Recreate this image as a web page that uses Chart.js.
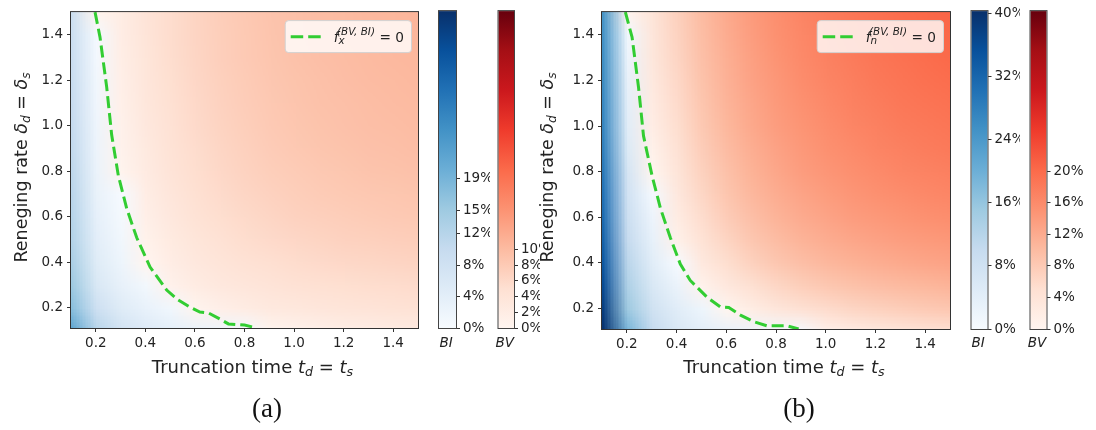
<!DOCTYPE html>
<html>
<head>
<meta charset="utf-8">
<script src="https://cdn.jsdelivr.net/npm/chart.js@4.4.1/dist/chart.umd.min.js"></script>
<style>
  html, body { margin: 0; padding: 0; background: #fff; }
  #fig { position: relative; width: 1096px; height: 430px; overflow: hidden; background: #fff; }
  #fig canvas { position: absolute; top: 0; }
</style>
</head>
<body>
<div id="fig">
  <canvas id="heatA" width="425" height="430" style="left:0px"></canvas>
  <canvas id="biA" width="60" height="360" style="left:430px"></canvas>
  <canvas id="bvA" width="50" height="360" style="left:490px"></canvas>
  <canvas id="heatB" width="430" height="430" style="left:530px"></canvas>
  <canvas id="biB" width="60" height="360" style="left:960px"></canvas>
  <canvas id="bvB" width="76" height="360" style="left:1020px"></canvas>
</div>
<script>
// ---- sample grid: truncation time t (columns) and reneging rate delta (rows) ----
const tGrid = [0.1, 0.2, 0.3, 0.4, 0.5, 0.6, 0.7, 0.8, 0.9, 1.0, 1.1, 1.2, 1.3, 1.4, 1.5];
const dGrid = [0.1, 0.2, 0.3, 0.4, 0.5, 0.6, 0.7, 0.8, 0.9, 1.0, 1.1, 1.2, 1.3, 1.4, 1.5];

// advantage in % : positive = BV better, negative = BI better (rows follow dGrid)
const advantageX = [
  [-22, -12, -7.5, -5.2, -3.8, -2.6, -1.7, -0.9, 0.1, 0.7, 1.2, 1.6, 1.9, 2.2, 2.4],
  [-17, -8.5, -4.8, -2.8, -1.3, 0.3, 1.4, 2.2, 2.8, 3.2, 3.6, 3.9, 4.1, 4.3, 4.5],
  [-15, -6.0, -3.0, -1.1, 0.9, 2.1, 3.0, 3.6, 4.1, 4.5, 4.8, 5.1, 5.3, 5.5, 5.7],
  [-13.5, -4.8, -2.0, 0.0, 1.8, 3.0, 3.9, 4.5, 5.0, 5.4, 5.8, 6.1, 6.3, 6.5, 6.7],
  [-12.5, -4.0, -1.3, 0.8, 2.5, 3.7, 4.6, 5.3, 5.8, 6.2, 6.6, 6.9, 7.1, 7.3, 7.5],
  [-12, -3.4, -0.6, 1.4, 3.1, 4.3, 5.2, 5.9, 6.4, 6.9, 7.2, 7.5, 7.8, 8.0, 8.2],
  [-11.5, -2.9, -0.2, 1.9, 3.6, 4.8, 5.7, 6.4, 6.9, 7.4, 7.8, 8.1, 8.3, 8.5, 8.7],
  [-11, -2.5, 0.3, 2.3, 4.0, 5.2, 6.1, 6.8, 7.4, 7.8, 8.2, 8.5, 8.8, 9.0, 9.2],
  [-10.5, -2.1, 0.6, 2.7, 4.3, 5.5, 6.4, 7.1, 7.7, 8.2, 8.6, 8.9, 9.2, 9.4, 9.6],
  [-10, -1.8, 0.9, 3.0, 4.6, 5.8, 6.7, 7.4, 8.0, 8.5, 8.9, 9.2, 9.5, 9.7, 9.9],
  [-9.7, -1.5, 1.2, 3.3, 4.9, 6.0, 6.9, 7.6, 8.2, 8.7, 9.1, 9.4, 9.7, 9.9, 10.1],
  [-9.4, -1.2, 1.4, 3.5, 5.1, 6.2, 7.1, 7.8, 8.4, 8.9, 9.3, 9.6, 9.9, 10.1, 10.3],
  [-9.1, -0.9, 1.6, 3.7, 5.3, 6.4, 7.3, 8.0, 8.6, 9.1, 9.5, 9.8, 10.1, 10.3, 10.5],
  [-8.8, -0.6, 1.8, 3.9, 5.4, 6.5, 7.4, 8.1, 8.7, 9.2, 9.6, 9.9, 10.2, 10.4, 10.6],
  [-8.6, 0.1, 2.0, 4.0, 5.5, 6.6, 7.5, 8.2, 8.8, 9.3, 9.7, 10.0, 10.3, 10.5, 10.7]
];
const advantageN = [
  [-40, -19, -10, -6, -4, -2.8, -1.8, -1.0, -0.3, 0.9, 1.9, 2.7, 3.4, 4.0, 4.5],
  [-38, -15, -8, -4.5, -2, 0.1, 2.0, 3.5, 4.7, 5.6, 6.4, 7.0, 7.5, 8.0, 8.4],
  [-36, -13, -6, -2.5, 0.6, 3.0, 4.9, 6.3, 7.4, 8.3, 9.0, 9.6, 10.1, 10.5, 10.9],
  [-34, -11.5, -4.5, -0.3, 2.9, 5.2, 7.0, 8.4, 9.5, 10.4, 11.1, 11.7, 12.2, 12.6, 13.0],
  [-32.5, -10, -3.3, 1.0, 4.3, 6.6, 8.4, 9.8, 10.9, 11.8, 12.5, 13.1, 13.6, 14.0, 14.4],
  [-31, -8.8, -2.1, 2.1, 5.4, 7.7, 9.5, 10.9, 12.0, 12.9, 13.7, 14.3, 14.8, 15.2, 15.6],
  [-30, -7.8, -0.7, 3.1, 6.3, 8.6, 10.4, 11.8, 12.9, 13.8, 14.6, 15.2, 15.8, 16.2, 16.6],
  [-29, -7.0, 0.1, 3.9, 7.0, 9.3, 11.1, 12.5, 13.7, 14.6, 15.4, 16.0, 16.6, 17.0, 17.4],
  [-28, -5.5, 1.0, 4.6, 7.6, 9.9, 11.7, 13.1, 14.3, 15.2, 16.0, 16.7, 17.3, 17.7, 18.1],
  [-27, -4.5, 1.8, 5.2, 8.2, 10.5, 12.3, 13.7, 14.8, 15.8, 16.6, 17.3, 17.9, 18.3, 18.7],
  [-26.5, -3.8, 2.4, 5.7, 8.6, 10.9, 12.7, 14.1, 15.3, 16.3, 17.1, 17.8, 18.4, 18.8, 19.2],
  [-26, -3.0, 2.9, 6.1, 9.0, 11.3, 13.1, 14.5, 15.7, 16.7, 17.5, 18.2, 18.8, 19.3, 19.7],
  [-25.5, -2.2, 3.3, 6.5, 9.4, 11.6, 13.4, 14.9, 16.1, 17.1, 17.9, 18.6, 19.2, 19.7, 20.1],
  [-25, -1.4, 3.6, 6.8, 9.7, 11.9, 13.7, 15.2, 16.4, 17.4, 18.2, 18.9, 19.5, 20.0, 20.4],
  [-24.5, 0.2, 3.9, 7.1, 10.0, 12.2, 14.0, 15.5, 16.7, 17.7, 18.5, 19.2, 19.8, 20.3, 20.7]
];

// zero-advantage boundary (t, delta)
const zeroXt = [0.197, 0.217, 0.244, 0.264, 0.291, 0.325, 0.365, 0.419, 0.486, 0.53, 0.575, 0.62, 0.655, 0.70, 0.735, 0.80, 0.85];
const zeroXd = [1.5, 1.39, 1.17, 0.96, 0.78, 0.635, 0.508, 0.378, 0.277, 0.235, 0.205, 0.18, 0.176, 0.15, 0.128, 0.123, 0.11];
const zeroNt = [0.194, 0.221, 0.247, 0.267, 0.301, 0.335, 0.375, 0.415, 0.455, 0.522, 0.576, 0.61, 0.657, 0.71, 0.764, 0.844, 0.891];
const zeroNd = [1.5, 1.39, 1.17, 0.957, 0.784, 0.64, 0.51, 0.395, 0.323, 0.25, 0.207, 0.204, 0.171, 0.142, 0.124, 0.124, 0.11];

// axis and colorbar ticks
const axisTicks = [0.2, 0.4, 0.6, 0.8, 1.0, 1.2, 1.4];
const biTicksX = [0, 4, 8, 12, 15, 19];
const biLabelsX = ['0%', '4%', '8%', '12%', '15%', '19%'];
const bvTicksX = [0, 2, 4, 6, 8, 10];
const bvLabelsX = ['0%', '2%', '4%', '6%', '8%', '10%'];
const biTicksN = [0, 8, 16, 24, 32, 40];
const biLabelsN = ['0%', '8%', '16%', '24%', '32%', '40%'];
const bvTicksN = [0, 4, 8, 12, 16, 20];
const bvLabelsN = ['0%', '4%', '8%', '12%', '16%', '20%'];

// ---- colour maps (Blues / Reds), shared range ----
const VMAX = 40.3;
const BLUES = ['#f7fbff', '#deebf7', '#c6dbef', '#9ecae1', '#6baed6', '#4292c6', '#2171b5', '#08519c', '#08306b'];
const REDS = ['#fff5f0', '#fee0d2', '#fcbba1', '#fc9272', '#fb6a4a', '#ef3b2c', '#cb181d', '#a50f15', '#67000d'];
const TEXT = '#232323';
const FONT = 'DejaVu Sans';

function hexRgb(h) { return [parseInt(h.slice(1, 3), 16), parseInt(h.slice(3, 5), 16), parseInt(h.slice(5, 7), 16)]; }
const BLUES_RGB = BLUES.map(hexRgb), REDS_RGB = REDS.map(hexRgb);
function sample(stops, t) {
  t = Math.max(0, Math.min(1, t));
  const p = t * (stops.length - 1), i = Math.min(stops.length - 2, Math.floor(p)), f = p - i;
  const a = stops[i], b = stops[i + 1];
  return [0, 1, 2].map(k => Math.round(a[k] + (b[k] - a[k]) * f));
}
function advColor(v) { return v < 0 ? sample(BLUES_RGB, -v / VMAX) : sample(REDS_RGB, v / VMAX); }

// ---- mixed roman / italic / subscript text ----
function runFont(style, size) {
  const s = style === 'si' ? size * 0.7 : size;
  return (style === 'r' ? '' : 'italic ') + s + 'px "' + FONT + '"';
}
function runsWidth(ctx, runs, size) {
  let w = 0;
  for (const [txt, st] of runs) { ctx.font = runFont(st, size); w += ctx.measureText(txt).width; }
  return w;
}
function drawRuns(ctx, runs, size, cx, baseY) {
  let x = cx - runsWidth(ctx, runs, size) / 2;
  ctx.textAlign = 'left'; ctx.textBaseline = 'alphabetic'; ctx.fillStyle = TEXT;
  for (const [txt, st] of runs) {
    ctx.font = runFont(st, size);
    ctx.fillText(txt, x, st === 'si' ? baseY + size * 0.17 : baseY);
    x += ctx.measureText(txt).width;
  }
}
const xTitleRuns = [['Truncation time ', 'r'], ['t', 'i'], ['d', 'si'], [' = ', 'r'], ['t', 'i'], ['s', 'si']];
const yTitleRuns = [['Reneging rate ', 'r'], ['\u03B4', 'i'], ['d', 'si'], [' = ', 'r'], ['\u03B4', 'i'], ['s', 'si']];

function drawLegend(ctx, area, subLetter) {
  const fsMain = 13.7, fsSmall = 10.4;
  ctx.font = 'italic ' + fsMain + 'px "' + FONT + '"'; const wF = ctx.measureText('f').width;
  ctx.font = 'italic ' + fsSmall + 'px "' + FONT + '"';
  const wSup = ctx.measureText('(BV, BI)').width, wSub = ctx.measureText(subLetter).width;
  ctx.font = fsMain + 'px "' + FONT + '"'; const wEq = ctx.measureText('= 0').width;
  const supX = wF - 1.5, subX = wF;
  const eqX = Math.max(supX + wSup, subX + wSub) + 4.5;
  const boxW = 49 + eqX + wEq + 7, boxH = 32;
  const right = area.right - 7, left = right - boxW, top = area.top + 8;
  ctx.save();
  ctx.beginPath();
  ctx.roundRect(left + 0.5, top + 0.5, boxW, boxH, 3.5);
  ctx.fillStyle = 'rgba(255,255,255,0.8)'; ctx.fill();
  ctx.strokeStyle = '#d2d2d2'; ctx.lineWidth = 1; ctx.stroke();
  ctx.beginPath();
  ctx.setLineDash([12.5, 5]); ctx.lineWidth = 3; ctx.strokeStyle = '#32cd32'; ctx.lineCap = 'butt';
  ctx.moveTo(left + 6, top + 16.7); ctx.lineTo(left + 36, top + 16.7); ctx.stroke();
  ctx.setLineDash([]);
  const tx = left + 49, base = top + 21.7;
  ctx.fillStyle = TEXT; ctx.textAlign = 'left'; ctx.textBaseline = 'alphabetic';
  ctx.font = 'italic ' + fsMain + 'px "' + FONT + '"'; ctx.fillText('f', tx, base);
  ctx.font = 'italic ' + fsSmall + 'px "' + FONT + '"';
  ctx.fillText('(BV, BI)', tx + supX, top + 15.2);
  ctx.fillText(subLetter, tx + subX, top + 24.3);
  ctx.font = fsMain + 'px "' + FONT + '"'; ctx.fillText('= 0', tx + eqX, base);
  ctx.restore();
}

// ---- heatmap panel ----
function heatPanel(id, grid, zt, zd, cfg) {
  const cv = document.getElementById(id);
  const W = cv.width, H = cv.height;
  const layer = {
    id: 'heatLayer',
    beforeDatasetsDraw(chart) {
      const { ctx, chartArea: a, scales: { x, y } } = chart;
      const nx = tGrid.length, ny = dGrid.length;
      const off = document.createElement('canvas'); off.width = nx; off.height = ny;
      const octx = off.getContext('2d');
      const img = octx.createImageData(nx, ny);
      for (let j = 0; j < ny; j++) for (let i = 0; i < nx; i++) {
        const c = advColor(grid[j][i]), k = ((ny - 1 - j) * nx + i) * 4;
        img.data[k] = c[0]; img.data[k + 1] = c[1]; img.data[k + 2] = c[2]; img.data[k + 3] = 255;
      }
      octx.putImageData(img, 0, 0);
      const dt = tGrid[1] - tGrid[0], dd = dGrid[1] - dGrid[0];
      const x0 = x.getPixelForValue(tGrid[0] - dt / 2), x1 = x.getPixelForValue(tGrid[nx - 1] + dt / 2);
      const y0 = y.getPixelForValue(dGrid[ny - 1] + dd / 2), y1 = y.getPixelForValue(dGrid[0] - dd / 2);
      ctx.save();
      ctx.beginPath(); ctx.rect(a.left, a.top, a.right - a.left, a.bottom - a.top); ctx.clip();
      ctx.imageSmoothingEnabled = true; ctx.imageSmoothingQuality = 'low';
      ctx.drawImage(off, x0, y0, x1 - x0, y1 - y0);
      ctx.restore();
    },
    afterDatasetsDraw(chart) {
      const { ctx, chartArea: a } = chart;
      ctx.save();
      ctx.strokeStyle = '#333'; ctx.lineWidth = 1;
      ctx.strokeRect(a.left - 0.5, a.top - 0.5, a.right - a.left + 1, a.bottom - a.top + 1);
      ctx.restore();
      drawLegend(ctx, a, cfg.sub);
    },
    afterDraw(chart) {
      const { ctx } = chart;
      ctx.save();
      drawRuns(ctx, xTitleRuns, 18, cfg.xTitleX, 372.5);
      ctx.translate(cfg.yTitleX, 167.5); ctx.rotate(-Math.PI / 2);
      drawRuns(ctx, yTitleRuns, 17.5, 0, 0);
      ctx.restore();
      ctx.save();
      ctx.fillStyle = '#111'; ctx.font = '27px "Liberation Serif"';
      ctx.textAlign = 'center'; ctx.textBaseline = 'alphabetic';
      ctx.fillText(cfg.caption, cfg.captionX, 416.5);
      ctx.restore();
    }
  };
  const tickFont = { family: FONT, size: 13.5 };
  return new Chart(cv, {
    type: 'scatter',
    data: {
      datasets: [{
        data: zt.map((t, i) => ({ x: t, y: zd[i] })),
        showLine: true, borderColor: '#32cd32', borderWidth: 3, borderDash: [12, 5],
        pointRadius: 0, fill: false, tension: 0
      }]
    },
    options: {
      responsive: false, animation: false, devicePixelRatio: 1,
      layout: { padding: { left: 0, right: W - cfg.right, top: 7, bottom: 40 } },
      plugins: { legend: { display: false }, tooltip: { enabled: false } },
      scales: {
        x: {
          type: 'linear', min: 0.1, max: 1.5,
          afterBuildTicks: s => { s.ticks = axisTicks.map(v => ({ value: v })); },
          afterFit: s => { s.height = H - 40 - cfg.bottom; },
          ticks: { padding: 3, maxRotation: 0, autoSkip: false, color: TEXT, font: tickFont, callback: v => v.toFixed(1) },
          grid: { drawOnChartArea: false, drawTicks: true, tickLength: 4, color: '#333' },
          border: { display: false }
        },
        y: {
          type: 'linear', min: 0.11, max: 1.5,
          afterBuildTicks: s => { s.ticks = axisTicks.map(v => ({ value: v })); },
          afterFit: s => { s.width = cfg.left; },
          ticks: { padding: 4, autoSkip: false, color: TEXT, font: tickFont, callback: v => v.toFixed(1) },
          grid: { drawOnChartArea: false, drawTicks: true, tickLength: 4, color: '#333' },
          border: { display: false }
        }
      }
    },
    plugins: [layer]
  });
}

// ---- colour bar ----
function colorBar(id, stops, ticks, labels, name, barLeft, barRight, barBottom) {
  const cv = document.getElementById(id);
  const W = cv.width, H = cv.height;
  const bar = {
    id: 'barFill',
    beforeDatasetsDraw(chart) {
      const { ctx, chartArea: a, scales: { y } } = chart;
      ctx.save();
      const y0 = y.getPixelForValue(0), y1 = y.getPixelForValue(VMAX);
      const grad = ctx.createLinearGradient(0, y0, 0, y1);
      stops.forEach((c, i) => grad.addColorStop(i / (stops.length - 1), 'rgb(' + c.join(',') + ')'));
      ctx.fillStyle = grad;
      ctx.fillRect(a.left, y1, a.right - a.left, y0 - y1);
      ctx.strokeStyle = '#444'; ctx.lineWidth = 1;
      ctx.strokeRect(a.left - 0.5, a.top - 0.5, a.right - a.left + 1, a.bottom - a.top + 1);
      ctx.restore();
    },
    afterDraw(chart) {
      const { ctx, chartArea: a } = chart;
      ctx.save();
      ctx.fillStyle = TEXT; ctx.font = 'italic 13.5px "' + FONT + '"';
      ctx.textAlign = 'center'; ctx.textBaseline = 'alphabetic';
      ctx.fillText(name, (a.left + a.right) / 2 - 1.5, 346.5);
      ctx.restore();
    }
  };
  return new Chart(cv, {
    type: 'scatter',
    data: { datasets: [] },
    options: {
      responsive: false, animation: false, devicePixelRatio: 1,
      layout: { padding: { left: barLeft, right: 0, top: 7, bottom: H - barBottom } },
      plugins: { legend: { display: false }, tooltip: { enabled: false } },
      scales: {
        x: { type: 'linear', display: false, min: 0, max: 1 },
        y: {
          type: 'linear', position: 'right', min: 0, max: VMAX,
          afterBuildTicks: s => { s.ticks = ticks.map(v => ({ value: v })); },
          afterFit: s => { s.width = W - barRight; },
          ticks: { padding: 3, autoSkip: false, color: TEXT, font: { family: FONT, size: 13.5 }, callback: (v, i) => labels[i] },
          grid: { drawOnChartArea: false, drawTicks: true, tickLength: 4, color: '#333' },
          border: { display: false }
        }
      }
    },
    plugins: [bar]
  });
}

heatPanel('heatA', advantageX, zeroXt, zeroXd, { left: 71, right: 418, bottom: 328, sub: 'x', xTitleX: 252.5, yTitleX: 26.7, caption: '(a)', captionX: 267 });
heatPanel('heatB', advantageN, zeroNt, zeroNd, { left: 72, right: 420, bottom: 329, sub: 'n', xTitleX: 254, yTitleX: 23.3, caption: '(b)', captionX: 269 });
colorBar('biA', BLUES_RGB, biTicksX, biLabelsX, 'BI', 9, 26, 328);
colorBar('bvA', REDS_RGB, bvTicksX, bvLabelsX, 'BV', 8.5, 24, 328);
colorBar('biB', BLUES_RGB, biTicksN, biLabelsN, 'BI', 11.5, 27.5, 329);
colorBar('bvB', REDS_RGB, bvTicksN, bvLabelsN, 'BV', 10.5, 26.5, 329);
</script>
</body>
</html>
